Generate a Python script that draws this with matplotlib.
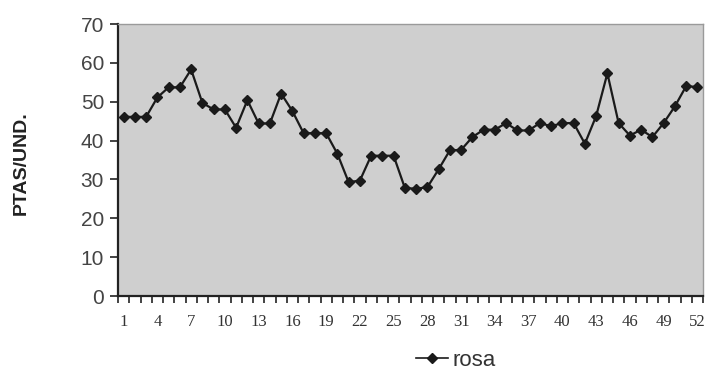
import matplotlib
matplotlib.use("Agg")
import matplotlib.pyplot as plt
from matplotlib.ticker import FixedLocator
import numpy as np

weeks = list(range(1, 53))
rosa = [46.1, 46.1, 46.1, 51.1, 53.7, 53.7, 58.3, 49.7, 48.0, 48.0,
        43.3, 50.4, 44.4, 44.4, 52.1, 47.6, 41.9, 41.9, 41.9, 36.6,
        29.3, 29.7, 36.1, 36.1, 36.1, 27.8, 27.6, 28.0, 32.6, 37.5,
        37.6, 40.9, 42.8, 42.8, 44.5, 42.6, 42.6, 44.5, 43.7, 44.5,
        44.5, 39.2, 46.3, 57.3, 44.5, 41.3, 42.8, 40.9, 44.5, 48.8,
        54.0, 53.8]
xtick_labels = [str(w) for w in range(1, 53, 3)]
ytick_vals = list(range(0, 71, 10))
series_name = "rosa"
ylabel = "PTAS/UND."

fig = plt.figure(figsize=(7.14, 3.72), dpi=100)
ax = fig.add_axes([118/714, 1-296/372, (703-118)/714, (296-24)/372])
ax.set_facecolor("#cfcfcf")

ax.plot(weeks, rosa, color="#1a1a1a", lw=1.6, marker="D", ms=5,
        markerfacecolor="#1a1a1a", markeredgecolor="#1a1a1a", label=series_name)

ax.set_xlim(0.5, 52.5)
ax.set_ylim(0, 70)
ax.set_yticks(ytick_vals)
ax.set_yticklabels([str(v) for v in ytick_vals], fontsize=15, color="#444444",
                   family=["Liberation Sans", "DejaVu Sans"])
ax.set_xticks(list(range(1, 53, 3)))
ax.set_xticklabels(xtick_labels, fontsize=12, color="#333333",
                   family=["Liberation Serif", "DejaVu Serif"])
ax.xaxis.set_minor_locator(FixedLocator(np.arange(0.5, 53, 1)))
ax.tick_params(axis="x", which="major", length=0, pad=13)
ax.tick_params(axis="x", which="minor", length=5, width=1.2, direction="out", color="#222222")
ax.tick_params(axis="y", length=6, width=1.2, direction="out", color="#222222", pad=4)

for s in ["left", "bottom"]:
    ax.spines[s].set_color("#222222")
    ax.spines[s].set_linewidth(1.6)
for s in ["top", "right"]:
    ax.spines[s].set_color("#9a9a9a")
    ax.spines[s].set_linewidth(1.0)

fig.text(21/714, 1-163/372, ylabel, rotation=90, fontsize=14, fontweight="bold",
         ha="center", va="center", color="#222222",
         family=["Liberation Sans", "DejaVu Sans"])

leg = fig.legend(loc="center", bbox_to_anchor=(456/714, 1-360/372), frameon=False,
                 handlelength=1.45, handletextpad=0.2,
                 prop={"family": ["Liberation Sans", "DejaVu Sans"], "size": 16})
for t in leg.get_texts():
    t.set_color("#333333")
for h in leg.legend_handles:
    h.set_markersize(5)
    h.set_linewidth(1.2)

fig.savefig("out.png", dpi=100)
